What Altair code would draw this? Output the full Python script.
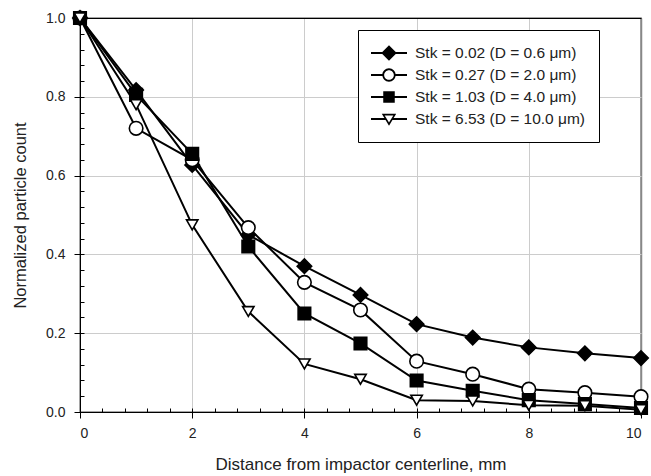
import altair as alt
import pandas as pd

distance = [0, 1, 2, 3, 4, 5, 6, 7, 8, 9, 10]
series_names = [
    "Stk = 0.02 (D = 0.6 μm)",
    "Stk = 0.27 (D = 2.0 μm)",
    "Stk = 1.03 (D = 4.0 μm)",
    "Stk = 6.53 (D = 10.0 μm)",
]
stk_002 = [1.0, 0.817, 0.627, 0.45, 0.37, 0.297, 0.223, 0.189, 0.164, 0.149, 0.137]
stk_027 = [1.0, 0.72, 0.64, 0.468, 0.329, 0.259, 0.129, 0.096, 0.058, 0.049, 0.039]
stk_103 = [1.0, 0.805, 0.655, 0.42, 0.25, 0.174, 0.08, 0.054, 0.03, 0.02, 0.01]
stk_653 = [1.0, 0.78, 0.475, 0.255, 0.122, 0.083, 0.03, 0.028, 0.017, 0.016, 0.006]

x_major = [0, 2, 4, 6, 8, 10]
y_major = [0.0, 0.2, 0.4, 0.6, 0.8, 1.0]
x_minor = [round(i * 0.4, 2) for i in range(26)]
y_minor = [round(i * 0.04, 2) for i in range(26)]

rows = []
for name, vals in zip(series_names, [stk_002, stk_027, stk_103, stk_653]):
    for d, v in zip(distance, vals):
        rows.append({"distance": d, "count": v, "series": name})
df = pd.DataFrame(rows)

FONT = "Liberation Sans"
x_scale = alt.Scale(domain=[0, 10], nice=False, zero=False)
y_scale = alt.Scale(domain=[0, 1], nice=False)

base = alt.Chart(df)

lines = base.mark_line(color="black", strokeWidth=2).encode(
    x=alt.X("distance:Q", scale=x_scale, axis=alt.Axis(
        orient="bottom", values=x_major, format="d",
        title="Distance from impactor centerline, mm",
        grid=True,
        gridColor={"condition": {"test": "datum.value >= 9.99", "value": "#888888"},
                   "value": "#cccccc"},
        gridWidth={"condition": {"test": "datum.value >= 9.99", "value": 1.5},
                   "value": 1},
        domainColor="black", tickColor="black", tickSize=6,
        labelFont=FONT, labelFontSize=14, labelColor="#222222", labelPadding=8,
        titleFont=FONT, titleFontSize=17, titleFontWeight="normal",
        titleColor="#222222", titlePadding=16)),
    y=alt.Y("count:Q", scale=y_scale, axis=alt.Axis(
        orient="left", values=y_major, format=".1f",
        title="Normalized particle count",
        grid=True,
        gridColor={"condition": {"test": "datum.value >= 0.999", "value": "black"},
                   "value": "#cccccc"},
        gridWidth=1,
        domainColor="black", tickColor="black", tickSize=6,
        labelFont=FONT, labelFontSize=14, labelColor="#222222", labelPadding=9,
        titleFont=FONT, titleFontSize=16.5, titleFontWeight="normal",
        titleColor="#222222", titlePadding=17)),
    detail="series:N",
)

points = base.mark_point(filled=True, stroke="black", strokeWidth=1.6, opacity=1).encode(
    x=alt.X("distance:Q", scale=x_scale, axis=None),
    y=alt.Y("count:Q", scale=y_scale, axis=None),
    shape=alt.Shape("series:N", scale=alt.Scale(
        domain=series_names, range=["diamond", "circle", "square", "triangle-down"]), legend=None),
    fill=alt.Fill("series:N", scale=alt.Scale(
        domain=series_names, range=["black", "white", "black", "white"]), legend=None),
    size=alt.Size("series:N", scale=alt.Scale(
        domain=series_names, range=[210, 130, 115, 120]), legend=None),
)

# legend symbols: line + marker (hollow markers drawn as rings with reversed inner winding)
legend_paths = [
    "M-1,-0.055H-0.3V0.055H-1ZM0.3,-0.055H1V0.055H0.3Z"
    "M0,-0.43L0.43,0L0,0.43L-0.43,0Z",
    "M-1,-0.055H-0.34V0.055H-1ZM0.34,-0.055H1V0.055H0.34Z"
    "M0.37,0A0.37,0.37 0 1,1 -0.37,0A0.37,0.37 0 1,1 0.37,0Z"
    "M0.27,0A0.27,0.27 0 1,0 -0.27,0A0.27,0.27 0 1,0 0.27,0Z",
    "M-1,-0.055H-0.3V0.055H-1ZM0.3,-0.055H1V0.055H0.3Z"
    "M-0.32,-0.32H0.32V0.32H-0.32Z",
    "M-1,-0.055H-0.2V0.055H-1ZM0.2,-0.055H1V0.055H0.2Z"
    "M-0.4,-0.29L0.4,-0.29L0,0.37Z"
    "M-0.24,-0.195L0,0.19L0.24,-0.195Z",
]

legend_layer = base.mark_point(filled=True, color="black", opacity=1).encode(
    x=alt.X("distance:Q", scale=x_scale, axis=None),
    y=alt.Y("count:Q", scale=y_scale, axis=None),
    shape=alt.Shape("series:N", scale=alt.Scale(domain=series_names, range=legend_paths),
                    legend=alt.Legend(
                        title=None, orient="none", legendX=278, legendY=12,
                        symbolSize=1296, symbolStrokeWidth=0, symbolFillColor="black",
                        symbolOpacity=1, clipHeight=20, rowPadding=2, padding=13,
                        labelOffset=8, labelFont=FONT, labelFontSize=15.5,
                        labelColor="#222222", labelLimit=400,
                        strokeColor="black", fillColor="white",
                    )),
).transform_filter("datum.distance < 0")

minor = base.mark_point(opacity=0).encode(
    x=alt.X("distance:Q", scale=x_scale, axis=alt.Axis(
        orient="bottom", values=x_minor, labels=False, title=None, grid=False,
        domain=False, ticks=True, tickColor="black", tickSize=4, offset=-4)),
    y=alt.Y("count:Q", scale=y_scale, axis=alt.Axis(
        orient="left", values=y_minor, labels=False, title=None, grid=False,
        domain=False, ticks=True, tickColor="black", tickSize=4, offset=-4)),
)

chart = alt.layer(lines, minor, points, legend_layer).resolve_scale(
    shape="independent"
).resolve_axis(
    x="independent", y="independent"
).properties(
    width=561, height=394,
    padding={"left": 80, "top": 18, "right": 10, "bottom": 64},
    autosize=alt.AutoSizeParams(type="none"),
    background="white",
).configure_view(stroke="#888888", strokeWidth=1.5)

chart.save("out.html", embed_options={"renderer": "svg", "actions": False})
